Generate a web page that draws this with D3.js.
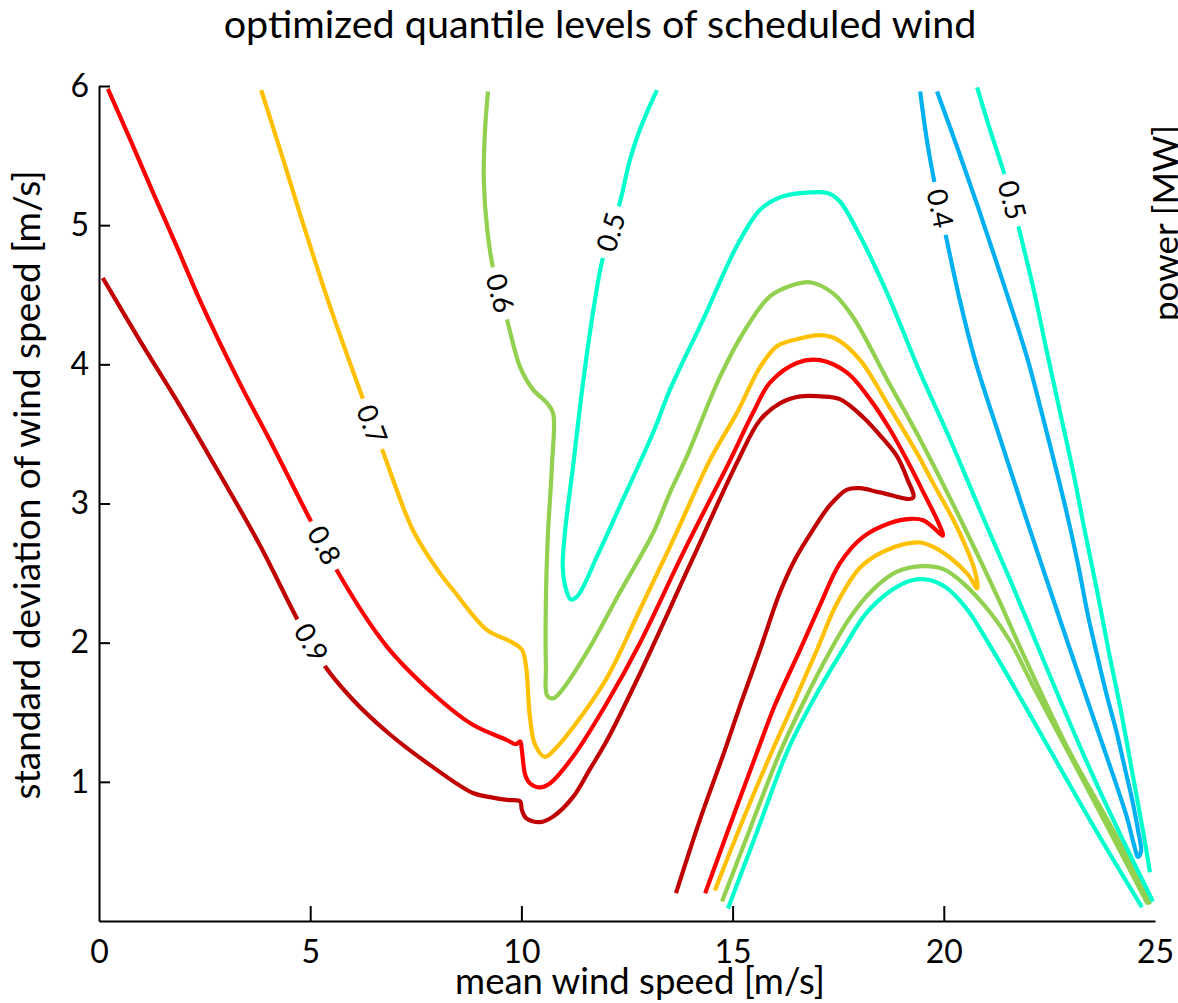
<!DOCTYPE html>
<html><head><meta charset="utf-8">
<script src="https://cdnjs.cloudflare.com/ajax/libs/d3/7.8.5/d3.min.js"></script>
<style>
body{margin:0;background:#fff;overflow:hidden;}
svg{display:block;}
text{font-family:Lato, "Open Sans", sans-serif;fill:#000;}
</style>
</head><body>
<svg id="chart" width="1178" height="1003"></svg>
<script>
// ---------- data ----------
const xTicks = [0, 5, 10, 15, 20, 25];
const yTicks = [1, 2, 3, 4, 5, 6];
const chartTitle = "optimized quantile levels of scheduled wind";
const xTitle = "mean wind speed [m/s]";
const yTitle = "standard deviation of wind speed [m/s]";
const rightTitle = "power [MW]";

// contour lines: [mean wind speed, std dev]
const q90 = [[0.09,4.62],[0.99,4.16],[1.92,3.70],[2.86,3.21],[3.81,2.70],[4.71,2.16],[5.02,2.00],[5.35,1.83],[6.01,1.59],[6.89,1.34],[7.84,1.12],[8.85,0.92],[9.26,0.89],[9.66,0.87],[9.97,0.86],[10.01,0.80],[10.11,0.74],[10.44,0.71],[10.75,0.75],[11.22,0.89],[11.62,1.09],[12.03,1.30],[12.81,1.78],[13.99,2.56],[15.13,3.31],[15.65,3.60],[16.12,3.72],[16.60,3.77],[17.07,3.77],[17.54,3.75],[18.09,3.62],[18.49,3.49],[18.89,3.34],[19.13,3.18],[19.27,3.04],[18.49,3.08],[18.02,3.11],[17.71,3.10],[17.31,2.99],[16.90,2.81],[16.48,2.60],[16.12,2.36],[15.65,1.95],[15.18,1.55],[14.82,1.23],[14.23,0.73],[13.66,0.20]];

const q80 = [[0.21,5.98],[0.76,5.60],[1.30,5.22],[1.85,4.84],[2.39,4.46],[3.29,3.89],[4.12,3.41],[5.04,2.86],[5.33,2.70],[5.63,2.52],[6.82,1.97],[8.07,1.59],[8.85,1.41],[9.66,1.30],[9.87,1.27],[9.97,1.29],[10.01,1.23],[10.09,1.05],[10.20,0.99],[10.44,0.96],[10.68,0.99],[11.22,1.18],[12.03,1.57],[12.81,2.00],[13.87,2.67],[14.94,3.31],[15.48,3.65],[15.89,3.87],[16.52,4.01],[17.07,4.03],[17.71,3.94],[18.25,3.75],[18.73,3.53],[19.13,3.31],[19.55,3.06],[19.86,2.87],[19.98,2.77],[19.74,2.83],[19.51,2.88],[19.20,2.89],[18.73,2.86],[18.09,2.76],[17.54,2.57],[17.07,2.27],[16.60,1.95],[16.00,1.55],[15.60,1.23],[14.94,0.69],[14.35,0.20]];

const q70 = [[3.84,5.97],[4.29,5.54],[4.76,5.08],[5.42,4.46],[6.25,3.75],[6.46,3.57],[6.70,3.39],[7.43,2.81],[8.07,2.50],[8.38,2.38],[9.19,2.09],[9.73,2.01],[10.01,1.95],[10.11,1.83],[10.20,1.47],[10.32,1.27],[10.56,1.18],[10.84,1.25],[11.22,1.39],[12.03,1.75],[12.81,2.24],[13.64,2.77],[14.46,3.31],[15.10,3.65],[15.65,3.98],[16.05,4.13],[16.52,4.18],[17.07,4.21],[17.47,4.18],[18.02,4.03],[18.66,3.72],[19.37,3.36],[19.74,3.15],[20.31,2.83],[20.74,2.51],[20.79,2.39],[20.57,2.49],[20.15,2.61],[19.74,2.69],[19.44,2.72],[19.08,2.71],[18.54,2.65],[18.02,2.54],[17.45,2.27],[17.00,1.95],[16.48,1.59],[15.89,1.19],[15.29,0.76],[14.58,0.22]];

const q60a = [[9.21,5.96],[9.14,5.69],[9.11,5.33],[9.19,4.97],[9.33,4.69],[9.49,4.51],[9.66,4.32],[9.97,3.98],[10.27,3.82],[10.61,3.72],[10.75,3.65],[10.72,3.26],[10.63,2.79],[10.58,2.31],[10.58,1.83],[10.61,1.62],[10.75,1.60],[10.91,1.64],[11.55,1.93],[12.33,2.36],[13.12,2.79],[13.52,3.08],[13.92,3.34],[14.70,3.91],[15.34,4.27],[15.89,4.49],[16.43,4.57],[16.83,4.59],[17.38,4.51],[17.85,4.34],[18.66,3.89],[19.44,3.46],[20.55,2.79],[21.33,2.29],[21.80,1.97],[22.92,1.25],[24.10,0.60],[24.88,0.12]];
const q60b = [[14.75,0.14],[15.41,0.66],[16.12,1.21],[16.71,1.59],[17.31,1.94],[17.78,2.18],[18.32,2.38],[18.89,2.51],[19.51,2.55],[19.98,2.53],[20.45,2.43],[21.09,2.22],[21.57,2.01],[22.11,1.69],[23.30,1.01],[24.83,0.12]];

const q50a = [[13.21,5.97],[13.00,5.83],[12.76,5.65],[12.57,5.47],[12.33,5.16],[12.12,4.95],[11.91,4.74],[11.74,4.46],[11.46,3.87],[11.22,3.26],[11.03,2.79],[10.98,2.54],[11.06,2.38],[11.17,2.31],[11.34,2.34],[11.79,2.62],[12.33,2.98],[13.12,3.51],[13.52,3.82],[14.30,4.32],[15.10,4.85],[15.65,5.11],[16.12,5.20],[16.60,5.23],[17.26,5.23],[17.54,5.17],[18.02,4.92],[18.66,4.51],[19.44,3.94],[20.15,3.46],[20.86,2.95],[21.57,2.45],[21.97,2.16],[22.75,1.59],[23.58,1.01],[24.29,0.55],[24.95,0.14]];
const q50b = [[14.89,0.09],[15.60,0.66],[16.31,1.23],[16.95,1.61],[17.61,1.95],[18.16,2.21],[18.73,2.37],[19.27,2.45],[19.67,2.45],[20.08,2.39],[20.55,2.24],[21.09,1.98],[21.80,1.61],[22.51,1.23],[23.70,0.60],[24.69,0.10]];
const q50c = [[20.79,5.99],[21.09,5.69],[21.40,5.40],[21.61,5.18],[21.80,4.95],[22.14,4.52],[22.44,4.09],[22.75,3.66],[23.06,3.23],[23.34,2.80],[23.63,2.37],[23.91,1.93],[24.20,1.50],[24.46,1.07],[24.72,0.64],[24.88,0.35]];

const q40 = [[19.44,5.96],[19.60,5.61],[19.79,5.29],[19.91,5.12],[20.03,4.95],[20.38,4.46],[20.74,4.03],[21.33,3.47],[21.92,2.92],[22.47,2.42],[22.99,1.95],[23.53,1.47],[24.05,1.01],[24.34,0.74],[24.50,0.55],[24.60,0.46],[24.67,0.50],[24.60,0.65],[24.46,0.87],[24.27,1.12],[24.08,1.37],[23.86,1.62],[23.63,1.91],[23.41,2.20],[23.18,2.56],[22.92,2.92],[22.63,3.28],[22.32,3.65],[21.99,4.03],[21.64,4.37],[21.24,4.74],[20.81,5.13],[20.34,5.54],[19.84,5.96]];

// inline contour labels
const labelLevels = [0.9, 0.8, 0.7, 0.6, 0.5, 0.4, 0.5];
const labelX = [5.02, 5.33, 6.46, 9.49, 12.12, 19.91, 21.61];
const labelY = [2.00, 2.70, 3.57, 4.51, 4.95, 5.12, 5.18];

// ---------- drawing ----------
const colorOf = {"0.9":"#C00000","0.8":"#FF0000","0.7":"#FFC000","0.6":"#92D050","0.5":"#00FFCC","0.4":"#00B0F0"};
const lines = [
  {level:0.9, pts:q90},{level:0.8, pts:q80},{level:0.7, pts:q70},
  {level:0.6, pts:q60a},{level:0.6, pts:q60b},
  {level:0.5, pts:q50a},{level:0.5, pts:q50b},{level:0.5, pts:q50c},
  {level:0.4, pts:q40}
];

const svg = d3.select("#chart");
const x = d3.scaleLinear().domain([0,25]).range([99,1155]);
const y = d3.scaleLinear().domain([0,6]).range([921,86]);

// label geometry (angle follows the contour)
const labels = labelLevels.map((lv,i)=>{
  const px = x(labelX[i]), py = y(labelY[i]);
  let best=null, bi=-1, bd=Infinity;
  lines.filter(l=>l.level===lv).forEach(l=>{
    l.pts.forEach((p,j)=>{
      const d=(x(p[0])-px)**2+(y(p[1])-py)**2;
      if(d<bd){bd=d;best=l;bi=j;}
    });
  });
  const a=best.pts[Math.max(bi-1,0)], b=best.pts[Math.min(bi+1,best.pts.length-1)];
  let ang=Math.atan2(y(b[1])-y(a[1]), x(b[0])-x(a[0]))*180/Math.PI;
  if(ang>90) ang-=180;
  if(ang<=-90) ang+=180;
  return {text:String(lv), px, py, ang};
});

const defs = svg.append("defs");
const mask = defs.append("mask").attr("id","gaps")
  .attr("maskUnits","userSpaceOnUse").attr("x",0).attr("y",0).attr("width",1178).attr("height",1003);
mask.append("rect").attr("x",0).attr("y",0).attr("width",1178).attr("height",1003).attr("fill","#fff");
mask.selectAll("rect.g").data(labels).join("rect").attr("class","g")
  .attr("x",-27).attr("y",-15).attr("width",54).attr("height",30).attr("fill","#000")
  .attr("transform",d=>`translate(${d.px},${d.py}) rotate(${d.ang})`);

const lineGen = d3.line().x(d=>x(d[0])).y(d=>y(d[1])).curve(d3.curveCatmullRom.alpha(0.5));
svg.append("g").attr("mask","url(#gaps)")
  .selectAll("path").data(lines).join("path")
  .attr("d",d=>lineGen(d.pts))
  .attr("fill","none")
  .attr("stroke",d=>colorOf[String(d.level)])
  .attr("stroke-width",4.2)
  .attr("stroke-linejoin","round")
  .attr("stroke-linecap","butt");

svg.append("g").selectAll("text").data(labels).join("text")
  .attr("transform",d=>`translate(${d.px},${d.py}) rotate(${d.ang})`)
  .attr("text-anchor","middle").attr("dy","0.35em")
  .style("font-size","28px")
  .text(d=>d.text);

// axes
const xAxis = d3.axisBottom(x).tickValues(xTicks).tickSizeInner(-15).tickSizeOuter(0).tickPadding(19).tickFormat(d3.format("d"));
const gx = svg.append("g").attr("transform","translate(0,921)").call(xAxis);
const yAxis = d3.axisLeft(y).tickValues(yTicks).tickSizeInner(-11).tickSizeOuter(0).tickPadding(10).tickFormat(d3.format("d"));
const gy = svg.append("g").attr("transform","translate(99,0)").call(yAxis);
[gx,gy].forEach(g=>{
  g.select(".domain").attr("stroke","#000").attr("stroke-width",2);
  g.selectAll(".tick line").attr("stroke","#000").attr("stroke-width",2);
  g.selectAll(".tick text").style("font-size","32px").style("font-family","Lato, sans-serif").attr("fill","#000");
});
gx.selectAll(".tick").filter(d=>d===25 || d===0).select("line").remove();

// titles
svg.append("text").attr("x",600).attr("y",38).attr("text-anchor","middle").style("font-size","39.5px").text(chartTitle);
svg.append("text").attr("x",640).attr("y",994).attr("text-anchor","middle").style("font-size","36.5px").text(xTitle);
svg.append("text").attr("transform","translate(40,485) rotate(-90)").attr("text-anchor","middle").style("font-size","37px").text(yTitle);
svg.append("text").attr("transform","translate(1178,223) rotate(-90)").attr("text-anchor","middle").style("font-size","35px").text(rightTitle);
</script>
</body></html>
